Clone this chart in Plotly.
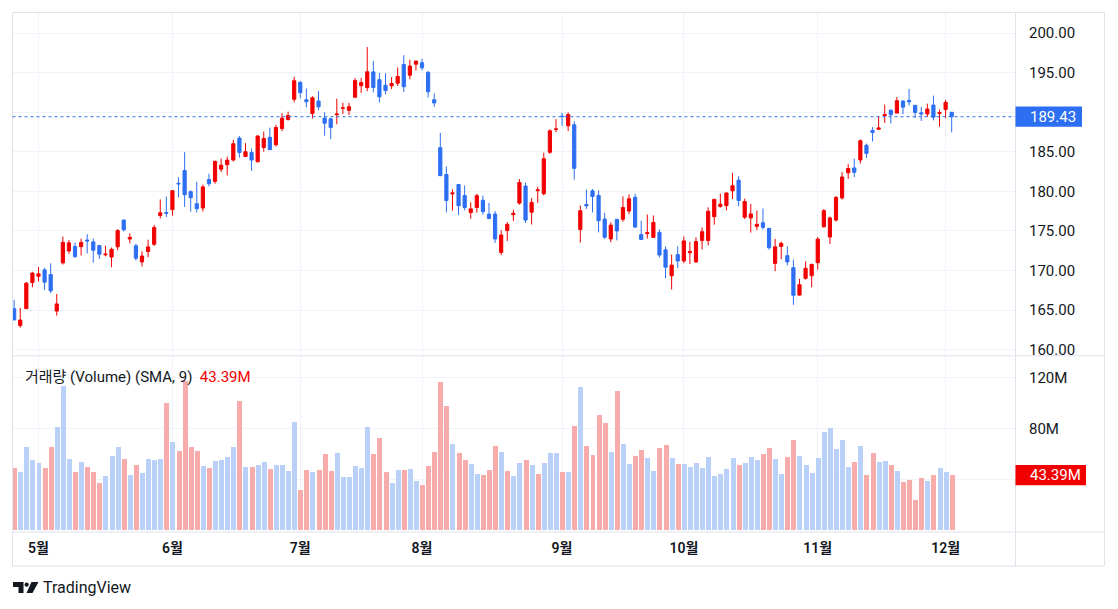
import pandas as pd
import plotly.graph_objects as go

W, H = 1118, 609

# ---------------- data ----------------
holidays = ["2023-05-29", "2023-06-19", "2023-07-04", "2023-09-04", "2023-11-23"]
dates = [d.strftime("%Y-%m-%d") for d in pd.bdate_range("2023-04-25", "2023-12-04")
         if d.strftime("%Y-%m-%d") not in holidays]

open_ = [165.19, 163.06, 165.19, 168.49, 169.28, 170.09, 169.50, 164.89, 170.98, 172.48,
         173.05, 173.02, 173.85, 173.62, 173.16, 171.99, 171.71, 173.00, 176.39, 173.98,
         173.13, 171.09, 172.41, 173.32, 176.96, 177.33, 177.70, 181.03, 182.63, 179.97,
         178.44, 177.90, 181.50, 181.27, 182.80, 183.37, 183.96, 186.73, 184.41, 184.90,
         183.74, 185.55, 186.83, 185.89, 187.93, 189.08, 191.63, 193.78, 191.57, 189.84,
         191.41, 189.26, 189.16, 189.68, 190.50, 190.23, 191.90, 193.35, 193.10, 195.09,
         194.10, 193.41, 193.33, 193.67, 196.02, 194.67, 196.06, 196.24, 195.04, 191.57,
         185.52, 182.13, 179.69, 180.87, 179.48, 177.32, 177.97, 178.88, 177.13, 177.14,
         172.30, 175.07, 177.06, 178.52, 180.67, 177.38, 180.09, 179.70, 184.94, 187.84,
         189.49, 188.28, 188.40, 175.18, 178.35, 180.07, 179.49, 176.51, 174.00, 176.48,
         176.48, 177.52, 179.26, 174.55, 174.67, 174.20, 174.82, 172.62, 169.34, 172.02,
         171.22, 172.26, 171.09, 173.79, 173.80, 176.81, 178.10, 178.20, 180.07, 181.42,
         176.75, 176.65, 175.58, 176.04, 175.31, 170.91, 173.05, 171.88, 170.37, 166.91,
         169.02, 169.35, 171.00, 175.52, 174.24, 176.38, 179.18, 182.35, 182.96, 183.97,
         185.82, 187.70, 187.85, 189.57, 190.25, 189.89, 191.41, 191.49, 190.87, 189.92,
         189.78, 190.90, 189.84, 190.33, 189.98]
high = [166.31, 165.28, 168.56, 169.85, 170.45, 170.35, 170.92, 167.04, 174.30, 173.85,
        173.54, 174.03, 174.59, 174.06, 173.21, 173.14, 172.93, 175.24, 176.39, 174.71,
        173.38, 172.42, 173.90, 175.77, 178.99, 179.35, 180.12, 181.78, 184.95, 180.12,
        181.21, 180.84, 182.23, 183.89, 184.15, 184.39, 186.52, 186.99, 186.10, 185.41,
        187.05, 187.56, 188.05, 188.39, 189.90, 190.07, 194.48, 193.88, 192.98, 192.02,
        192.67, 189.99, 189.30, 191.70, 191.19, 191.18, 194.32, 194.33, 198.23, 196.47,
        194.97, 194.91, 194.44, 195.64, 197.20, 196.63, 196.49, 196.73, 195.18, 192.37,
        187.38, 183.13, 180.27, 180.93, 180.75, 178.62, 179.69, 179.48, 178.54, 177.51,
        175.10, 176.13, 177.68, 181.55, 181.10, 179.15, 180.59, 184.90, 187.85, 189.12,
        189.92, 189.98, 188.85, 178.21, 180.24, 180.30, 180.13, 177.30, 176.10, 176.50,
        179.38, 179.63, 179.70, 176.30, 177.08, 176.97, 175.20, 173.04, 172.03, 173.07,
        174.30, 173.63, 174.21, 175.45, 177.99, 179.05, 179.72, 179.85, 182.34, 181.93,
        179.08, 178.42, 177.58, 177.84, 175.42, 174.01, 173.67, 173.06, 171.38, 168.96,
        171.17, 170.90, 174.23, 177.78, 176.82, 179.43, 182.44, 183.45, 184.12, 186.57,
        186.03, 188.11, 189.50, 190.96, 190.38, 191.91, 191.52, 192.93, 190.90, 190.67,
        191.08, 192.09, 190.32, 191.56, 190.05]
low = [163.73, 162.80, 165.19, 167.88, 168.64, 167.54, 167.16, 164.31, 170.76, 172.11,
       171.60, 171.90, 172.17, 171.00, 171.47, 171.80, 170.42, 172.58, 174.94, 173.45,
       171.28, 170.52, 171.69, 173.11, 176.57, 176.76, 176.93, 179.26, 178.04, 177.43,
       177.32, 177.46, 180.63, 180.97, 182.44, 182.02, 183.78, 184.27, 184.41, 182.59,
       183.67, 185.01, 185.23, 185.67, 187.60, 188.94, 191.26, 191.76, 190.62, 189.20,
       190.24, 187.04, 186.60, 188.47, 189.78, 189.63, 191.81, 192.42, 192.65, 192.50,
       191.23, 192.25, 192.92, 193.32, 192.55, 194.14, 195.26, 195.28, 191.85, 190.69,
       181.92, 177.35, 177.58, 177.01, 177.60, 176.55, 177.31, 177.05, 176.50, 173.48,
       171.96, 173.74, 176.25, 178.33, 176.01, 175.82, 178.55, 179.50, 184.74, 187.48,
       188.28, 187.61, 181.47, 173.54, 177.79, 177.34, 174.82, 173.98, 173.58, 173.82,
       176.17, 177.13, 175.40, 173.86, 174.05, 174.15, 171.66, 169.05, 167.62, 170.34,
       170.93, 170.82, 170.97, 172.68, 173.18, 175.80, 177.95, 177.60, 179.04, 178.14,
       176.51, 174.80, 175.11, 175.19, 172.64, 169.93, 171.45, 170.65, 165.67, 166.83,
       168.87, 167.90, 170.12, 175.46, 173.35, 176.21, 178.97, 181.59, 181.81, 183.53,
       184.21, 186.30, 187.78, 188.65, 188.57, 189.88, 189.74, 190.83, 189.25, 188.90,
       189.40, 188.97, 188.19, 189.23, 187.45]
close = [163.77, 163.76, 168.41, 169.68, 169.59, 168.54, 167.45, 165.79, 173.57, 173.50,
         171.77, 173.56, 173.75, 172.57, 172.07, 172.07, 172.69, 175.05, 175.16, 174.20,
         171.56, 171.84, 172.99, 175.43, 177.30, 177.25, 180.09, 180.95, 179.58, 179.21,
         177.82, 180.57, 180.96, 183.79, 183.31, 183.95, 186.01, 184.92, 185.01, 183.96,
         187.00, 186.68, 185.27, 188.06, 189.25, 189.59, 193.97, 192.46, 191.33, 191.81,
         190.68, 188.61, 188.08, 189.77, 190.54, 190.69, 193.99, 193.73, 195.10, 193.13,
         191.94, 192.75, 193.62, 194.50, 193.22, 195.83, 196.45, 195.61, 192.58, 191.17,
         181.99, 178.85, 179.80, 178.19, 177.97, 177.79, 179.46, 177.45, 176.57, 174.00,
         174.49, 175.84, 177.23, 181.12, 176.38, 178.61, 180.19, 184.12, 187.65, 187.87,
         189.46, 189.70, 182.91, 177.56, 178.18, 179.36, 176.30, 174.21, 175.74, 175.01,
         177.97, 179.07, 175.49, 173.93, 174.79, 176.08, 171.96, 170.43, 170.69, 171.21,
         173.75, 172.40, 173.66, 174.91, 177.49, 178.99, 178.39, 179.80, 180.71, 178.85,
         178.72, 177.15, 175.84, 175.46, 172.88, 173.00, 173.44, 171.10, 166.89, 168.22,
         170.29, 170.77, 173.97, 177.57, 176.65, 179.23, 181.82, 182.89, 182.41, 186.40,
         184.80, 187.44, 188.01, 189.71, 189.69, 191.45, 190.64, 191.31, 189.97, 189.79,
         190.40, 189.37, 189.95, 191.24, 189.43]
volume_m = [48.7, 45.5, 64.9, 55.2, 52.5, 48.4, 65.1, 81.2, 113.3, 56.0,
            45.3, 53.7, 49.5, 45.5, 37.3, 42.1, 58.0, 65.5, 55.8, 43.6,
            50.7, 45.1, 56.1, 54.8, 56.0, 99.6, 68.9, 61.9, 117.0, 64.8,
            61.9, 50.2, 48.9, 54.3, 54.9, 57.5, 65.4, 101.2, 49.8, 49.5,
            51.2, 53.1, 48.1, 50.7, 51.2, 46.3, 85.1, 31.5, 46.9, 45.2,
            46.8, 59.9, 46.6, 60.8, 41.3, 41.6, 50.5, 48.4, 80.5, 59.6,
            71.9, 45.4, 37.3, 47.5, 47.5, 48.3, 38.8, 35.2, 50.4, 61.2,
            115.8, 97.6, 67.8, 60.4, 54.7, 52.0, 43.7, 43.6, 47.0, 66.1,
            61.1, 46.3, 42.1, 52.7, 54.9, 51.4, 43.8, 53.0, 60.8, 60.8,
            45.7, 45.3, 81.8, 112.5, 65.6, 59.0, 90.4, 84.3, 60.9, 109.3,
            67.3, 51.8, 58.4, 63.0, 56.7, 46.2, 64.6, 66.9, 56.3, 51.8,
            52.2, 49.6, 53.0, 48.5, 57.2, 42.4, 43.7, 47.6, 56.7, 51.4,
            52.5, 57.5, 54.8, 59.3, 64.2, 56.0, 43.8, 57.2, 70.6, 58.5,
            51.1, 44.8, 56.9, 77.3, 79.8, 63.8, 70.5, 49.3, 53.8, 66.1,
            43.6, 60.1, 53.8, 54.4, 50.9, 46.5, 38.1, 39.6, 24.0, 40.6,
            38.4, 43.0, 48.8, 45.7, 43.39]
# volume bars that the reference shows in the "falling" colour despite close >= open
vol_falling_extra = ["2023-08-21", "2023-08-28"]

month_starts = ["2023-05-01", "2023-06-01", "2023-07-03", "2023-08-01",
                "2023-09-01", "2023-10-02", "2023-11-01", "2023-12-01"]
month_labels = ["5월", "6월", "7월", "8월", "9월", "10월", "11월", "12월"]
price_ticks = [160, 165, 170, 175, 180, 185, 190, 195, 200]
price_tick_labels = ["160.00", "165.00", "170.00", "175.00", "180.00", "185.00", "",
                     "195.00", "200.00"]
vol_ticks = [40, 80, 120]
vol_tick_labels = ["", "80M", "120M"]
legend_label = "거래량 (Volume) (SMA, 9)"

# ---------------- styling ----------------
UP = "#f20000"
DOWN = "#2d6ff2"
UP_VOL = "#f8abab"
DOWN_VOL = "#b9d0f8"
GRID = "#f0f3fa"
BORDER = "#e0e3eb"
TEXT = "#131722"
FONT = "Roboto, 'Noto Sans CJK KR', sans-serif"

K = 0.9925  # observed vertical rendering factor


def px(x):
    return x / W


def fy(y):
    return y / K


def py(y):
    return 1 - fy(y) / H


idx = list(range(len(dates)))
tick_idx = [dates.index(d) for d in month_starts]
XR = [-0.27, 164.4]
P_RANGE = [159.3, 202.65]
V_RANGE = [-0.8, 136.5]
P_TOP, P_BOT = 12, 355
V_TOP, V_BOT = 356, 531
p_ppu = (fy(P_BOT) - fy(P_TOP)) / (P_RANGE[1] - P_RANGE[0])
v_ppu = (fy(V_BOT) - fy(V_TOP)) / (V_RANGE[1] - V_RANGE[0])

vol_colors = [UP_VOL if (c < o or d in vol_falling_extra) else DOWN_VOL
              for d, o, c in zip(dates, open_, close)]
last_price = close[-1]
last_vol = volume_m[-1]
last_up = close[-1] >= open_[-1]

fig = go.Figure()
fig.add_trace(go.Candlestick(
    x=idx, open=open_, high=high, low=low, close=close,
    increasing=dict(line=dict(color=UP, width=1), fillcolor=UP),
    decreasing=dict(line=dict(color=DOWN, width=1), fillcolor=DOWN),
    whiskerwidth=0, hoverinfo="skip", xaxis="x", yaxis="y", showlegend=False))
fig.add_trace(go.Bar(
    x=idx, y=volume_m, marker=dict(color=vol_colors, line=dict(width=0)),
    width=0.82, hoverinfo="skip", xaxis="x2", yaxis="y2", showlegend=False))

shapes = []
shapes.append(dict(type="rect", xref="paper", yref="paper", x0=px(12.5), x1=px(1104.5),
                   y0=py(565.5), y1=py(12.5), line=dict(color=BORDER, width=1)))
shapes.append(dict(type="line", xref="paper", yref="paper", x0=px(1015.5), x1=px(1015.5),
                   y0=py(565.5), y1=py(12.5), line=dict(color=BORDER, width=1)))
shapes.append(dict(type="line", xref="paper", yref="paper", x0=px(12.5), x1=px(1104.5),
                   y0=py(355.5), y1=py(355.5), line=dict(color=BORDER, width=1)))
shapes.append(dict(type="line", xref="paper", yref="paper", x0=px(12.5), x1=px(1104.5),
                   y0=py(531.5), y1=py(531.5), line=dict(color=BORDER, width=1)))
shapes.append(dict(type="line", xref="paper", yref="y", x0=px(12.5), x1=px(1015),
                   y0=last_price, y1=last_price, line=dict(color=DOWN, width=1, dash="dot")))
ph = 10.2 / p_ppu
shapes.append(dict(type="rect", xref="paper", yref="y", x0=px(1015.5), x1=px(1082),
                   y0=last_price - ph, y1=last_price + ph,
                   fillcolor=UP if last_up else DOWN, line=dict(width=0)))
vh = 10.2 / v_ppu
shapes.append(dict(type="rect", xref="paper", yref="y2", x0=px(1015.5), x1=px(1086),
                   y0=last_vol - vh, y1=last_vol + vh,
                   fillcolor=DOWN if last_up else UP, line=dict(width=0)))


def path(points):
    return "M " + " L ".join(f"{px(x)},{py(y)}" for x, y in points) + " Z"


logo_color = "#131722"
shapes.append(dict(type="path", xref="paper", yref="paper",
                   path=path([(13, 581.5), (23.5, 581.5), (23.5, 592.5), (18.5, 592.5),
                              (18.5, 586.5), (13, 586.5)]),
                   fillcolor=logo_color, line=dict(width=0)))
shapes.append(dict(type="circle", xref="paper", yref="paper",
                   x0=px(24.5), x1=px(28.8), y0=py(586.3), y1=py(582),
                   fillcolor=logo_color, line=dict(width=0)))
shapes.append(dict(type="path", xref="paper", yref="paper",
                   path=path([(31.5, 581.5), (38.5, 581.5), (32.5, 592.5), (26.5, 592.5)]),
                   fillcolor=logo_color, line=dict(width=0)))

annotations = [
    dict(xref="paper", yref="y", x=px(1028), y=last_price, xanchor="left", yanchor="middle",
         text=f"{last_price:.2f}", showarrow=False,
         font=dict(family=FONT, size=15, color="white")),
    dict(xref="paper", yref="y2", x=px(1028), y=last_vol, xanchor="left", yanchor="middle",
         text=f"{last_vol:.2f}M", showarrow=False,
         font=dict(family=FONT, size=15, color="white")),
    dict(xref="paper", yref="paper", x=px(23), y=py(377), xanchor="left", yanchor="middle",
         text=f"{legend_label}  <span style='color:{UP}'>{last_vol:.2f}M</span>",
         showarrow=False, font=dict(family=FONT, size=15, color=TEXT)),
    dict(xref="paper", yref="paper", x=px(41), y=py(587), xanchor="left", yanchor="middle",
         text="TradingView", showarrow=False, font=dict(family=FONT, size=16, color=TEXT)),
]

fig.update_layout(
    width=W, height=H, margin=dict(l=0, r=0, t=0, b=0),
    paper_bgcolor="white", plot_bgcolor="white",
    font=dict(family=FONT, size=15, color=TEXT),
    showlegend=False, bargap=0, boxgap=0.25,
    shapes=shapes, annotations=annotations,
    xaxis=dict(domain=[px(12.5), px(1015)], range=XR, anchor="y",
               tickvals=tick_idx, showticklabels=False, showgrid=True, gridcolor=GRID,
               zeroline=False, showline=False, rangeslider=dict(visible=False),
               fixedrange=True),
    xaxis2=dict(domain=[px(12.5), px(1015)], range=XR, anchor="y2", matches="x",
                tickvals=tick_idx, ticktext=month_labels, showgrid=True, gridcolor=GRID,
                zeroline=False, showline=False, ticks="", ticklabelstandoff=7,
                tickfont=dict(family=FONT, size=14, color=TEXT, weight=600)),
    yaxis=dict(domain=[py(P_BOT), py(P_TOP)], range=P_RANGE, anchor="x", side="right",
               tickvals=price_ticks, ticktext=price_tick_labels,
               showgrid=True, gridcolor=GRID, zeroline=False, showline=False, ticks="",
               ticklabelstandoff=13, tickfont=dict(family=FONT, size=15, color=TEXT)),
    yaxis2=dict(domain=[py(V_BOT), py(V_TOP)], range=V_RANGE, anchor="x2", side="right",
                tickvals=vol_ticks, ticktext=vol_tick_labels,
                showgrid=True, gridcolor=GRID, zeroline=False, showline=False, ticks="",
                ticklabelstandoff=13, tickfont=dict(family=FONT, size=15, color=TEXT)),
)

fig.write_html("out.html", config={"displayModeBar": False},
               post_script="document.body.style.margin='0';document.body.style.overflow='hidden';")
